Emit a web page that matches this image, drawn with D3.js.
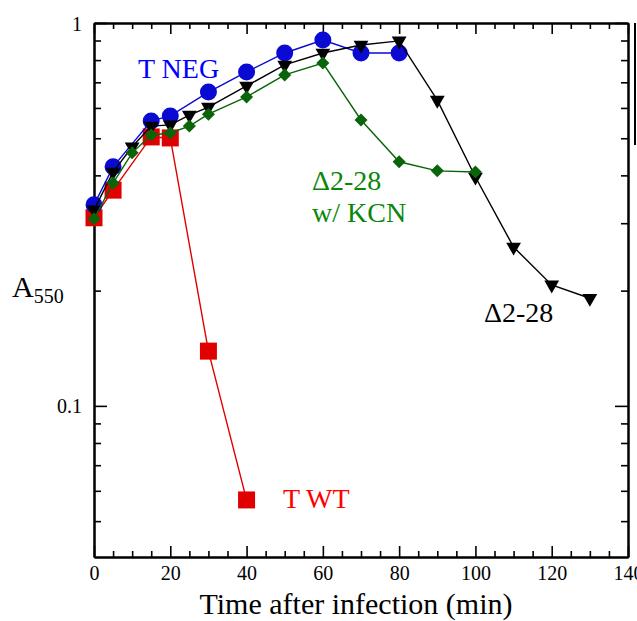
<!DOCTYPE html>
<html lang="en">
<head>
  <meta charset="UTF-8">
  <title>A550 vs time after infection</title>
  <script src="https://cdn.jsdelivr.net/npm/d3@7"></script>
  <style>
    body { margin: 0; background: #fff; }
    text { font-family: "Liberation Serif", "Times New Roman", serif; }
    .tick text { font-size: 20px; fill: #000; }
    .axis path, .axis line { stroke: #000; }
  </style>
</head>
<body>
  <div id="container"></div>

  <script>
    // T NEG (blue circles)
    const negTime = [0, 5, 15, 20, 30, 40, 50, 60, 70, 80];
    const negA = [0.335, 0.421, 0.555, 0.572, 0.660, 0.745, 0.835, 0.903, 0.835, 0.835];

    // delta2-28 (black triangles)
    const delTime = [0, 5, 10, 15, 20, 25, 30, 40, 50, 60, 70, 80, 90, 100, 110, 120, 130];
    const delA = [0.325, 0.408, 0.475, 0.538, 0.542, 0.575, 0.603, 0.685, 0.777, 0.835, 0.876, 0.898, 0.629, 0.396, 0.260, 0.207, 0.191];

    // delta2-28 w/ KCN (green diamonds)
    const kcnTime = [0, 5, 10, 15, 20, 25, 30, 40, 50, 60, 70, 80, 90, 100];
    const kcnA = [0.308, 0.382, 0.458, 0.510, 0.516, 0.538, 0.578, 0.641, 0.732, 0.786, 0.558, 0.434, 0.411, 0.408];

    // T WT (red squares)
    const wtTime = [0, 5, 15, 20, 30, 40];
    const wtA = [0.310, 0.366, 0.504, 0.501, 0.139, 0.0568];

    const xMajor = [0, 20, 40, 60, 80, 100, 120, 140];
    const xMinor = d3.range(0, 141, 5).filter(d => d % 20 !== 0);
    const yMajor = [0.1, 1];
    const yMinor = [0.05, 0.06, 0.07, 0.08, 0.09, 0.2, 0.3, 0.4, 0.5, 0.6, 0.7, 0.8, 0.9];

    const blue = "#0a0ad2";
    const red = "#e00000";
    const green = "#0a640a";

    const width = 637, height = 621;
    const plot = { left: 94, right: 628, top: 23, bottom: 557 };

    const svg = d3.select("#container")
      .append("svg")
      .attr("width", width)
      .attr("height", height);

    const x = d3.scaleLinear().domain([0, 140]).range([plot.left, plot.right]);
    const y = d3.scaleLog().domain([0.0403, 1]).range([plot.bottom, plot.top]);

    // axes, ticks pointing inward on all four sides
    function addAxis(axis, transform, values, size, padding) {
      const g = svg.append("g")
        .attr("class", "axis")
        .attr("transform", transform)
        .call(axis.tickValues(values).tickSize(-size).tickSizeOuter(0)
          .tickPadding(padding || 0)
          .tickFormat(padding ? d3.format("") : ""));
      g.selectAll("line").attr("stroke-width", 1.6);
      g.select(".domain").attr("stroke-width", 2);
      return g;
    }

    addAxis(d3.axisBottom(x), `translate(0,${plot.bottom})`, xMajor, 11, 9);
    addAxis(d3.axisBottom(x), `translate(0,${plot.bottom})`, xMinor, 6);
    addAxis(d3.axisTop(x), `translate(0,${plot.top})`, xMajor, 11);
    addAxis(d3.axisTop(x), `translate(0,${plot.top})`, xMinor, 6);

    const leftAxis = addAxis(d3.axisLeft(y), `translate(${plot.left},0)`, yMajor, 13, 12);
    leftAxis.selectAll("text").attr("dy", "0.35em");
    addAxis(d3.axisLeft(y), `translate(${plot.left},0)`, yMinor, 7);
    addAxis(d3.axisRight(y), `translate(${plot.right},0)`, yMajor, 13);
    addAxis(d3.axisRight(y), `translate(${plot.right},0)`, yMinor, 7);

    // edge of a cut-off box on the right
    svg.append("line")
      .attr("x1", 635).attr("x2", 635)
      .attr("y1", plot.top).attr("y2", 145)
      .attr("stroke", "#000").attr("stroke-width", 2);

    // series
    function addSeries(times, values, color, symbol, size, rotate) {
      const pts = times.map((t, i) => [t, values[i]]);
      svg.append("path")
        .datum(pts)
        .attr("fill", "none")
        .attr("stroke", color)
        .attr("stroke-width", 1.4)
        .attr("d", d3.line().x(d => x(d[0])).y(d => y(d[1])));
      svg.selectAll(null)
        .data(pts)
        .enter()
        .append("path")
        .attr("transform", d => `translate(${x(d[0])},${y(d[1])}) rotate(${rotate})`)
        .attr("d", d3.symbol().type(symbol).size(size))
        .attr("fill", color);
    }

    addSeries(wtTime, wtA, red, d3.symbolSquare, 289, 0);
    addSeries(negTime, negA, blue, d3.symbolCircle, 227, 0);
    addSeries(delTime, delA, "#000", d3.symbolTriangle, 95, 180);
    addSeries(kcnTime, kcnA, green, d3.symbolSquare, 85, 45);

    // labels
    const labels = svg.append("g").attr("font-size", 28);
    labels.append("text").attr("x", 138).attr("y", 78).attr("fill", "#0000ff").text("T NEG");
    labels.append("text").attr("x", 312).attr("y", 190).attr("fill", "#0a870a").text("\u03942-28");
    labels.append("text").attr("x", 312).attr("y", 222).attr("fill", "#0a870a").text("w/ KCN");
    labels.append("text").attr("x", 484).attr("y", 322).attr("fill", "#000").text("\u03942-28");
    labels.append("text").attr("x", 283).attr("y", 508).attr("fill", "#ff0000").text("T WT");

    // axis titles
    svg.append("text")
      .attr("x", 356)
      .attr("y", 614)
      .attr("text-anchor", "middle")
      .attr("font-size", 30)
      .text("Time after infection (min)");

    const yTitle = svg.append("text")
      .attr("x", 12)
      .attr("y", 297)
      .attr("font-size", 30);
    yTitle.append("tspan").text("A");
    yTitle.append("tspan").attr("font-size", 20).attr("dy", 6).text("550");
  </script>
</body>
</html>
